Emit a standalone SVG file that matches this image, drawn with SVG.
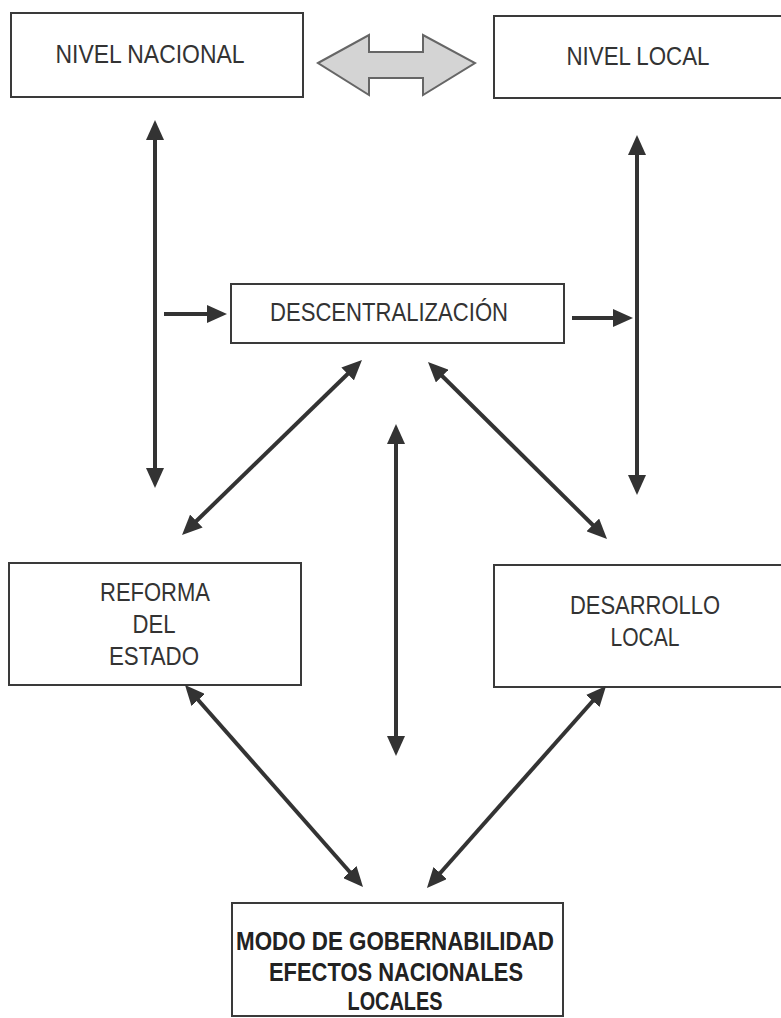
<svg xmlns="http://www.w3.org/2000/svg" width="781" height="1018" viewBox="0 0 781 1018">
<style>
.box{fill:#fff;stroke:#3a3a3a;stroke-width:2}
.t{font-family:"Liberation Sans",Arial,sans-serif;font-size:25px;fill:#333;text-anchor:middle}
.b{font-family:"Liberation Sans",Arial,sans-serif;font-size:25px;font-weight:bold;fill:#222;text-anchor:middle}
.c{stroke:#333;stroke-width:4;fill:none}
</style>
<defs>
<marker id="ah" markerUnits="userSpaceOnUse" viewBox="0 0 20 18" refX="10" refY="9" markerWidth="20" markerHeight="18" orient="auto-start-reverse">
<path d="M0,0 L20,9 L0,18 z" fill="#333"/>
</marker>
</defs>
<rect width="781" height="1018" fill="#fff"/>
<g id="nivel-nacional"><rect class="box" x="11" y="13" width="292" height="84"/><text class="t" x="150" y="63" textLength="189" lengthAdjust="spacingAndGlyphs">NIVEL NACIONAL</text></g>
<g id="nivel-local"><rect class="box" x="494" y="16" width="290" height="82"/><text class="t" x="638" y="65" textLength="143" lengthAdjust="spacingAndGlyphs">NIVEL LOCAL</text></g>
<g id="descentralizacion"><rect class="box" x="231" y="284" width="333" height="59"/><text class="t" x="389" y="321" textLength="238" lengthAdjust="spacingAndGlyphs">DESCENTRALIZACIÓN</text></g>
<g id="reforma"><rect class="box" x="9" y="563" width="292" height="122"/><text class="t" x="155" y="601" textLength="110" lengthAdjust="spacingAndGlyphs">REFORMA</text><text class="t" x="154" y="633" textLength="43" lengthAdjust="spacingAndGlyphs">DEL</text><text class="t" x="154" y="665" textLength="90" lengthAdjust="spacingAndGlyphs">ESTADO</text></g>
<g id="desarrollo"><rect class="box" x="494" y="565" width="290" height="122"/><text class="t" x="645" y="614" textLength="150" lengthAdjust="spacingAndGlyphs">DESARROLLO</text><text class="t" x="645" y="646" textLength="69" lengthAdjust="spacingAndGlyphs">LOCAL</text></g>
<g id="modo"><rect class="box" x="232" y="903" width="331" height="113"/><text class="b" x="395" y="950" textLength="318" lengthAdjust="spacingAndGlyphs">MODO DE GOBERNABILIDAD</text><text class="b" x="396" y="981" textLength="254" lengthAdjust="spacingAndGlyphs">EFECTOS NACIONALES</text><text class="b" x="395" y="1010" textLength="95" lengthAdjust="spacingAndGlyphs">LOCALES</text></g>
<g id="connectors">
<polygon points="318,63 369,35 369,52 423,52 423,35 475,63 423,95 423,78 369,78 369,95" fill="#d4d4d4" stroke="#666" stroke-width="2"/>
<line class="c" x1="155" y1="130" x2="155" y2="478" marker-start="url(#ah)" marker-end="url(#ah)"/>
<line class="c" x1="637" y1="145" x2="637" y2="485" marker-start="url(#ah)" marker-end="url(#ah)"/>
<line class="c" x1="164" y1="314" x2="217" y2="314" marker-end="url(#ah)"/>
<line class="c" x1="572" y1="318" x2="623" y2="318" marker-end="url(#ah)"/>
<line class="c" x1="396" y1="434" x2="396" y2="746" marker-start="url(#ah)" marker-end="url(#ah)"/>
<line class="c" x1="354.8" y1="367" x2="189.2" y2="528" marker-start="url(#ah)" marker-end="url(#ah)"/>
<line class="c" x1="435.1" y1="369" x2="599.9" y2="532" marker-start="url(#ah)" marker-end="url(#ah)"/>
<line class="c" x1="191.6" y1="692.5" x2="356.4" y2="879.5" marker-start="url(#ah)" marker-end="url(#ah)"/>
<line class="c" x1="599.4" y1="693.5" x2="433.6" y2="880.5" marker-start="url(#ah)" marker-end="url(#ah)"/>
</g>
</svg>
